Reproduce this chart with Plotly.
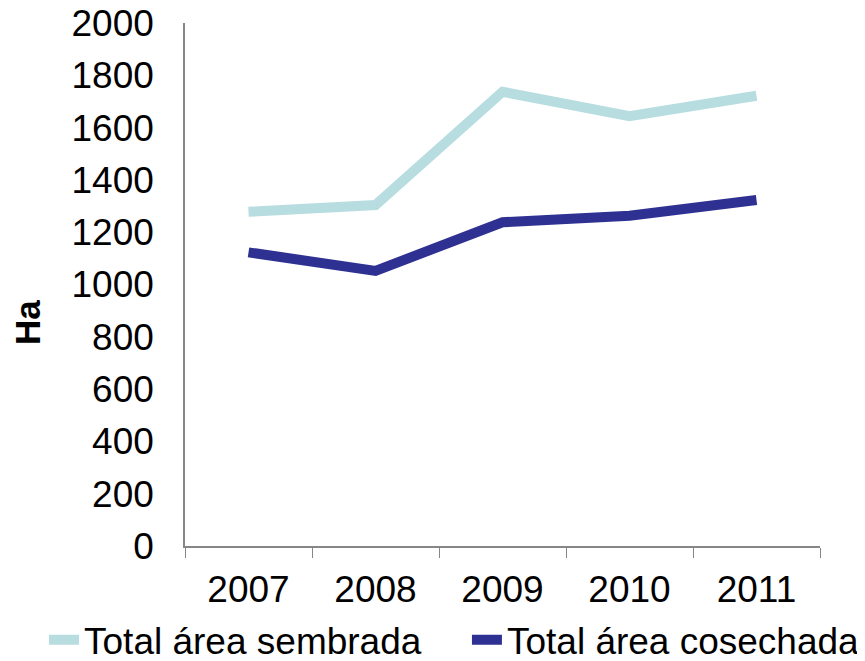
import plotly.graph_objects as go

years = ["2007", "2008", "2009", "2010", "2011"]
sembrada = [1278, 1304, 1737, 1644, 1722]
cosechada = [1123, 1052, 1238, 1263, 1323]
y_ticks = [0, 200, 400, 600, 800, 1000, 1200, 1400, 1600, 1800, 2000]

FONT = "Liberation Sans, Arial, sans-serif"

fig = go.Figure()
fig.add_trace(go.Scatter(x=years, y=sembrada, mode="lines", name="Total área sembrada",
                         line=dict(color="#B7DDE0", width=10), legend="legend"))
fig.add_trace(go.Scatter(x=years, y=cosechada, mode="lines", name="Total área cosechada",
                         line=dict(color="#2E3192", width=10), legend="legend2"))

leg_common = dict(orientation="h", xanchor="left", y=-0.18, yanchor="middle",
                  font=dict(size=37), itemwidth=30, bgcolor="rgba(0,0,0,0)")

fig.update_layout(
    width=865, height=661,
    margin=dict(l=177, r=53, t=15, b=123, autoexpand=False),
    paper_bgcolor="white", plot_bgcolor="white",
    font=dict(family=FONT, size=37, color="black"),
    showlegend=True,
    legend=dict(x=-0.222, **leg_common),
    legend2=dict(x=0.444, **leg_common),
    annotations=[dict(text="<b>Ha</b>", x=-0.249, y=0.428, xref="paper", yref="paper",
                      xanchor="center", yanchor="middle",
                      textangle=-90, showarrow=False, font=dict(size=35))],
)
fig.update_xaxes(type="category", range=[-0.5, 4.5], showline=True, linecolor="#868686",
                 linewidth=1.5, ticks="outside", tickson="boundaries", ticklen=10,
                 tickcolor="#868686", showgrid=False, tickfont=dict(size=37),
                 ticklabelstandoff=10, automargin=False)
fig.update_yaxes(range=[0, 2000], tickvals=y_ticks, showline=True, linecolor="#868686",
                 linewidth=1.5, ticks="", showgrid=False, zeroline=False,
                 tickfont=dict(size=37), ticklabelstandoff=22, automargin=False,
                 ticklabeloverflow="allow")

fig.write_html("out.html")
